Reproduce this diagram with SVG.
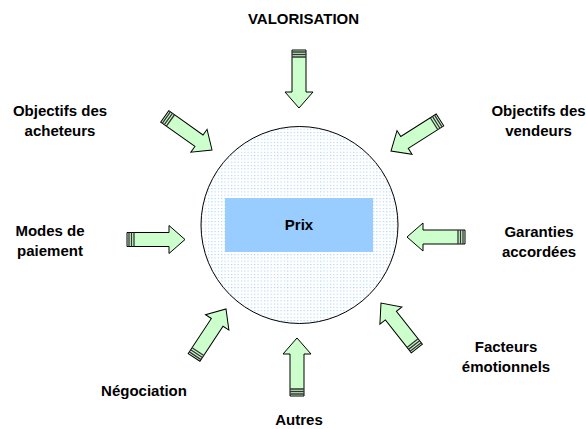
<svg xmlns="http://www.w3.org/2000/svg" xmlns:xlink="http://www.w3.org/1999/xlink" width="586" height="429" viewBox="0 0 586 429">
<style>
.lbl{font-family:"Liberation Sans",Arial,sans-serif;font-weight:bold;font-size:15px;fill:#000;text-anchor:middle}
.arr{fill:#ccffcc;stroke:#000;stroke-width:1}
.stripe{stroke:#333;stroke-width:1.3;fill:none}
</style>
<defs>
<pattern id="dots" width="3.3" height="3.3" patternUnits="userSpaceOnUse">
<rect width="3.3" height="3.3" fill="#fff"/>
<rect x="0" y="0" width="1.2" height="1" fill="#a9d2fa"/>
</pattern>
<g id="arrow">
<path class="arr" d="M-58,-7 H-16 V-14 L0,0 L-16,14 V7 H-58 Z"/>
<path class="stripe" d="M-56,-7 V7 M-53.5,-7 V7 M-51,-7 V7"/>
</g>
</defs>
<rect width="586" height="429" fill="#fff"/>
<g id="center">
<circle cx="299.5" cy="225" r="98.5" fill="url(#dots)" stroke="#000" stroke-width="1"/>
<rect x="225" y="198" width="148" height="54" fill="#99ccff"/>
<text class="lbl" x="299" y="230">Prix</text>
</g>
<g id="connectors">
<use xlink:href="#arrow" transform="translate(299,108) rotate(90)"/>
<use xlink:href="#arrow" transform="translate(185,239.5) rotate(0)"/>
<use xlink:href="#arrow" transform="translate(407,237) rotate(180)"/>
<use xlink:href="#arrow" transform="translate(297,338) rotate(-90)"/>
<use xlink:href="#arrow" transform="translate(212,150) rotate(35.4)"/>
<use xlink:href="#arrow" transform="translate(391,151) rotate(147.6)"/>
<use xlink:href="#arrow" transform="translate(226,309) rotate(-56.6)"/>
<use xlink:href="#arrow" transform="translate(381,303) rotate(-128.2)"/>
</g>
<g id="valorisation"><text class="lbl" x="303.5" y="24">VALORISATION</text></g>
<g id="acheteurs"><text class="lbl" x="60" y="116">Objectifs des</text><text class="lbl" x="60" y="136">acheteurs</text></g>
<g id="vendeurs"><text class="lbl" x="538.5" y="116">Objectifs des</text><text class="lbl" x="538.5" y="136">vendeurs</text></g>
<g id="paiement"><text class="lbl" x="50" y="236">Modes de</text><text class="lbl" x="50" y="256">paiement</text></g>
<g id="garanties"><text class="lbl" x="539" y="237">Garanties</text><text class="lbl" x="539" y="257">accordées</text></g>
<g id="facteurs"><text class="lbl" x="506" y="352">Facteurs</text><text class="lbl" x="506" y="372">émotionnels</text></g>
<g id="negociation"><text class="lbl" x="144" y="396">Négociation</text></g>
<g id="autres"><text class="lbl" x="299" y="425">Autres</text></g>
</svg>
